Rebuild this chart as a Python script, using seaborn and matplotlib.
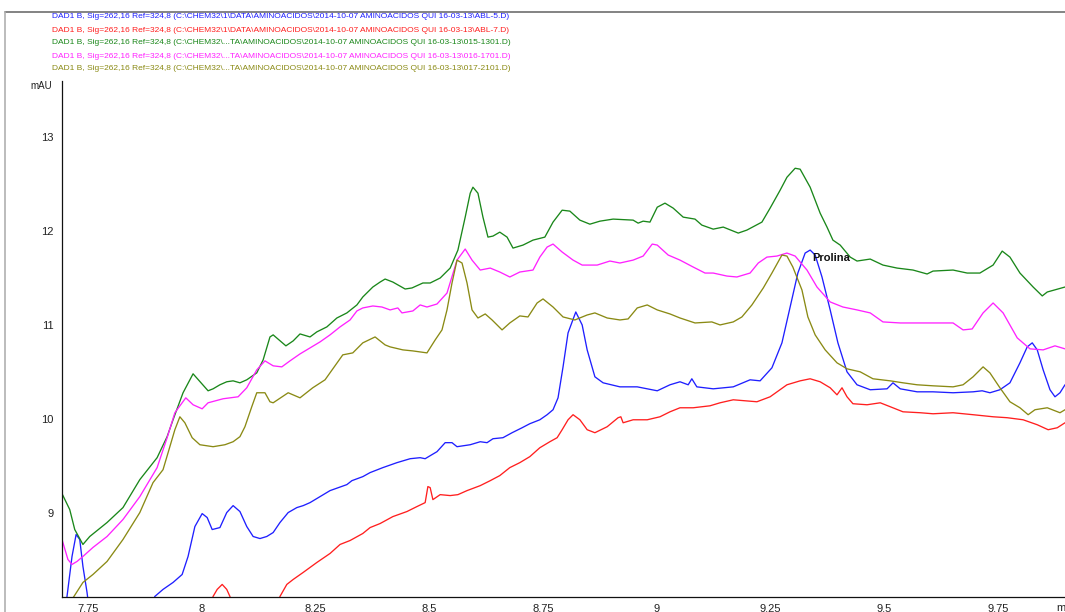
import matplotlib
matplotlib.use('Agg')
import matplotlib.pyplot as plt
from matplotlib.lines import Line2D
from matplotlib.ticker import MultipleLocator, FuncFormatter
import pandas as pd
import seaborn as sns

# Cromatogramas DAD1 B (Sig=262,16 Ref=324,8), tempo em min, sinal em mAU
t_abl5 = [7.697, 7.704, 7.715, 7.724, 7.732, 7.739, 7.748, 7.754, 7.886, 7.897, 7.915, 7.937, 7.957, 7.970,
          7.985, 8.001, 8.012, 8.023, 8.040, 8.055, 8.069, 8.084, 8.099, 8.113, 8.128, 8.143, 8.157, 8.172,
          8.190, 8.209, 8.223, 8.238, 8.260, 8.282, 8.319, 8.330, 8.354, 8.370, 8.398, 8.429, 8.458, 8.480,
          8.491, 8.502, 8.517, 8.535, 8.550, 8.561, 8.590, 8.612, 8.627, 8.640, 8.662, 8.682, 8.704, 8.721,
          8.743, 8.759, 8.772, 8.783, 8.794, 8.805, 8.822, 8.836, 8.847, 8.864, 8.882, 8.919, 8.957, 9.001,
          9.029, 9.051, 9.069, 9.077, 9.088, 9.124, 9.168, 9.205, 9.227, 9.253, 9.275, 9.293, 9.310, 9.326,
          9.337, 9.348, 9.363, 9.381, 9.398, 9.418, 9.440, 9.469, 9.506, 9.519, 9.535, 9.572, 9.607, 9.651,
          9.695, 9.715, 9.732, 9.754, 9.776, 9.798, 9.814, 9.825, 9.836, 9.849, 9.864, 9.875, 9.886, 9.897]
mau_abl5 = [7.947, 8.106, 8.532, 8.766, 8.713, 8.426, 8.149, 7.915, 7.947, 8.106, 8.181, 8.255, 8.340, 8.532,
            8.851, 8.989, 8.947, 8.819, 8.840, 9.000, 9.074, 9.011, 8.851, 8.745, 8.723, 8.745, 8.787, 8.894,
            9.000, 9.053, 9.074, 9.106, 9.170, 9.234, 9.298, 9.340, 9.383, 9.426, 9.479, 9.532, 9.574, 9.585,
            9.574, 9.606, 9.649, 9.745, 9.745, 9.702, 9.723, 9.755, 9.745, 9.787, 9.798, 9.851, 9.904, 9.947,
            9.989, 10.043, 10.096, 10.223, 10.553, 10.915, 11.138, 11.000, 10.734, 10.447, 10.383, 10.340, 10.340, 10.298,
            10.362, 10.394, 10.362, 10.426, 10.340, 10.319, 10.340, 10.415, 10.404, 10.543, 10.809, 11.191, 11.553, 11.766,
            11.798, 11.745, 11.511, 11.160, 10.809, 10.500, 10.362, 10.309, 10.319, 10.383, 10.319, 10.287, 10.287, 10.277,
            10.287, 10.298, 10.277, 10.309, 10.383, 10.596, 10.766, 10.809, 10.734, 10.521, 10.309, 10.234, 10.277, 10.362]

t_abl7 = [8.018, 8.025, 8.034, 8.045, 8.055, 8.062, 8.069, 8.165, 8.172, 8.187, 8.201, 8.223, 8.253, 8.282,
          8.304, 8.326, 8.354, 8.370, 8.392, 8.420, 8.451, 8.473, 8.491, 8.497, 8.502, 8.508, 8.524, 8.546,
          8.563, 8.583, 8.612, 8.634, 8.655, 8.677, 8.699, 8.721, 8.743, 8.765, 8.781, 8.792, 8.805, 8.816,
          8.831, 8.847, 8.864, 8.891, 8.915, 8.921, 8.926, 8.948, 8.979, 9.007, 9.029, 9.051, 9.080, 9.117,
          9.139, 9.168, 9.220, 9.249, 9.286, 9.315, 9.337, 9.359, 9.381, 9.396, 9.407, 9.418, 9.431, 9.462,
          9.491, 9.513, 9.541, 9.579, 9.607, 9.651, 9.695, 9.739, 9.770, 9.805, 9.836, 9.860, 9.880, 9.897]
mau_abl7 = [7.947, 8.106, 8.181, 8.234, 8.181, 8.106, 7.947, 7.947, 8.106, 8.234, 8.287, 8.362, 8.468, 8.564,
            8.660, 8.702, 8.777, 8.840, 8.883, 8.957, 9.011, 9.064, 9.106, 9.277, 9.266, 9.138, 9.191, 9.181,
            9.191, 9.234, 9.287, 9.340, 9.394, 9.479, 9.532, 9.596, 9.691, 9.755, 9.798, 9.883, 9.989, 10.043,
            9.989, 9.883, 9.851, 9.915, 10.011, 10.021, 9.957, 9.989, 9.989, 10.021, 10.074, 10.117, 10.117, 10.138,
            10.170, 10.202, 10.181, 10.234, 10.362, 10.404, 10.426, 10.394, 10.330, 10.255, 10.330, 10.234, 10.160, 10.149,
            10.170, 10.128, 10.074, 10.064, 10.053, 10.064, 10.043, 10.021, 10.011, 9.989, 9.936, 9.883, 9.904, 9.957]

t_1301 = [7.693, 7.710, 7.721, 7.739, 7.754, 7.792, 7.827, 7.864, 7.902, 7.924, 7.937, 7.959, 7.981, 8.014,
          8.025, 8.040, 8.055, 8.069, 8.084, 8.099, 8.121, 8.135, 8.150, 8.157, 8.185, 8.201, 8.216, 8.238,
          8.253, 8.275, 8.297, 8.319, 8.341, 8.354, 8.376, 8.392, 8.403, 8.420, 8.447, 8.462, 8.486, 8.502,
          8.524, 8.546, 8.563, 8.579, 8.590, 8.596, 8.607, 8.618, 8.629, 8.640, 8.655, 8.671, 8.684, 8.706,
          8.728, 8.754, 8.772, 8.792, 8.809, 8.831, 8.853, 8.875, 8.904, 8.948, 8.959, 8.970, 8.985, 9.001,
          9.018, 9.036, 9.058, 9.084, 9.099, 9.124, 9.146, 9.179, 9.198, 9.231, 9.249, 9.271, 9.286, 9.304,
          9.315, 9.337, 9.359, 9.374, 9.387, 9.403, 9.425, 9.440, 9.469, 9.497, 9.528, 9.563, 9.594, 9.607,
          9.651, 9.682, 9.710, 9.739, 9.759, 9.776, 9.798, 9.827, 9.847, 9.858, 9.897]
mau_1301 = [9.202, 9.032, 8.819, 8.660, 8.745, 8.894, 9.053, 9.351, 9.585, 9.809, 9.989, 10.277, 10.479, 10.298,
            10.319, 10.362, 10.394, 10.404, 10.383, 10.415, 10.489, 10.628, 10.872, 10.894, 10.777, 10.830, 10.904, 10.872,
            10.926, 10.979, 11.074, 11.128, 11.213, 11.298, 11.404, 11.457, 11.489, 11.457, 11.383, 11.394, 11.447, 11.447,
            11.500, 11.606, 11.798, 12.149, 12.404, 12.468, 12.404, 12.149, 11.936, 11.947, 11.989, 11.936, 11.819, 11.851,
            11.904, 11.936, 12.096, 12.223, 12.213, 12.117, 12.074, 12.106, 12.128, 12.117, 12.085, 12.106, 12.096, 12.255,
            12.298, 12.245, 12.149, 12.128, 12.064, 12.021, 12.043, 11.979, 12.011, 12.096, 12.245, 12.436, 12.574, 12.670,
            12.660, 12.468, 12.191, 12.043, 11.904, 11.851, 11.723, 11.681, 11.702, 11.638, 11.606, 11.585, 11.543, 11.574,
            11.585, 11.553, 11.553, 11.638, 11.787, 11.723, 11.553, 11.404, 11.309, 11.351, 11.404]

t_1701 = [7.693, 7.706, 7.715, 7.726, 7.739, 7.761, 7.792, 7.827, 7.864, 7.902, 7.924, 7.941, 7.965, 7.981,
          8.001, 8.014, 8.047, 8.080, 8.099, 8.121, 8.139, 8.157, 8.176, 8.194, 8.216, 8.238, 8.260, 8.282,
          8.304, 8.326, 8.341, 8.354, 8.376, 8.396, 8.414, 8.431, 8.440, 8.464, 8.480, 8.495, 8.517, 8.539,
          8.561, 8.579, 8.594, 8.612, 8.634, 8.655, 8.677, 8.699, 8.728, 8.743, 8.759, 8.772, 8.792, 8.816,
          8.836, 8.869, 8.897, 8.919, 8.948, 8.970, 8.990, 9.001, 9.025, 9.051, 9.080, 9.106, 9.124, 9.154,
          9.176, 9.205, 9.223, 9.242, 9.264, 9.286, 9.304, 9.330, 9.352, 9.381, 9.409, 9.440, 9.469, 9.497,
          9.535, 9.572, 9.607, 9.651, 9.673, 9.693, 9.717, 9.739, 9.761, 9.792, 9.820, 9.849, 9.875, 9.897]
mau_1701 = [8.713, 8.500, 8.447, 8.479, 8.532, 8.628, 8.745, 8.926, 9.170, 9.479, 9.798, 10.064, 10.223, 10.149,
            10.106, 10.170, 10.213, 10.234, 10.330, 10.521, 10.617, 10.564, 10.553, 10.617, 10.691, 10.755, 10.819, 10.894,
            10.979, 11.053, 11.149, 11.181, 11.202, 11.191, 11.160, 11.181, 11.128, 11.149, 11.213, 11.191, 11.223, 11.340,
            11.691, 11.809, 11.691, 11.585, 11.606, 11.564, 11.511, 11.564, 11.585, 11.723, 11.830, 11.862, 11.777, 11.691,
            11.638, 11.638, 11.681, 11.660, 11.691, 11.734, 11.862, 11.851, 11.745, 11.691, 11.617, 11.553, 11.553, 11.521,
            11.511, 11.553, 11.660, 11.723, 11.734, 11.766, 11.734, 11.585, 11.404, 11.245, 11.191, 11.160, 11.128, 11.032,
            11.021, 11.021, 11.021, 11.021, 10.947, 10.957, 11.128, 11.234, 11.128, 10.862, 10.745, 10.734, 10.777, 10.745]

t_2101 = [7.715, 7.739, 7.761, 7.792, 7.827, 7.864, 7.893, 7.915, 7.930, 7.941, 7.952, 7.963, 7.979, 7.996,
          8.025, 8.051, 8.069, 8.084, 8.095, 8.110, 8.121, 8.139, 8.150, 8.157, 8.190, 8.216, 8.244, 8.271,
          8.310, 8.332, 8.354, 8.381, 8.403, 8.414, 8.442, 8.464, 8.495, 8.513, 8.528, 8.539, 8.550, 8.561,
          8.572, 8.583, 8.594, 8.607, 8.623, 8.638, 8.660, 8.677, 8.699, 8.717, 8.737, 8.750, 8.772, 8.794,
          8.820, 8.847, 8.864, 8.891, 8.919, 8.937, 8.957, 8.979, 9.001, 9.029, 9.051, 9.084, 9.121, 9.139,
          9.168, 9.187, 9.209, 9.234, 9.253, 9.275, 9.286, 9.299, 9.319, 9.332, 9.348, 9.370, 9.396, 9.418,
          9.447, 9.475, 9.513, 9.541, 9.572, 9.607, 9.651, 9.673, 9.695, 9.717, 9.732, 9.754, 9.776, 9.798,
          9.816, 9.831, 9.858, 9.886, 9.897]
mau_2101 = [8.074, 8.255, 8.340, 8.479, 8.713, 9.000, 9.319, 9.457, 9.702, 9.883, 10.021, 9.957, 9.798, 9.723,
            9.702, 9.723, 9.755, 9.809, 9.915, 10.128, 10.277, 10.277, 10.181, 10.170, 10.277, 10.223, 10.330, 10.415,
            10.681, 10.702, 10.809, 10.872, 10.787, 10.766, 10.734, 10.723, 10.702, 10.840, 10.947, 11.160, 11.447, 11.691,
            11.660, 11.447, 11.160, 11.074, 11.117, 11.053, 10.947, 11.021, 11.096, 11.085, 11.234, 11.277, 11.191, 11.085,
            11.053, 11.106, 11.128, 11.074, 11.053, 11.064, 11.181, 11.213, 11.160, 11.117, 11.074, 11.021, 11.032, 11.000,
            11.032, 11.085, 11.213, 11.394, 11.553, 11.745, 11.734, 11.617, 11.372, 11.085, 10.894, 10.734, 10.596, 10.532,
            10.500, 10.426, 10.404, 10.383, 10.362, 10.351, 10.340, 10.362, 10.447, 10.553, 10.489, 10.330, 10.181, 10.117,
            10.043, 10.096, 10.117, 10.064, 10.096]

runs = ['ABL-5.D', 'ABL-7.D', '015-1301.D', '016-1701.D', '017-2101.D']
colors = ['#1f1fff', '#ff1f1f', '#1a871a', '#ff22ff', '#8a8a14']
legend_paths = [
    'C:\\CHEM32\\1\\DATA\\AMINOACIDOS\\2014-10-07 AMINOACIDOS QUI 16-03-13\\ABL-5.D',
    'C:\\CHEM32\\1\\DATA\\AMINOACIDOS\\2014-10-07 AMINOACIDOS QUI 16-03-13\\ABL-7.D',
    'C:\\CHEM32\\...TA\\AMINOACIDOS\\2014-10-07 AMINOACIDOS QUI 16-03-13\\015-1301.D',
    'C:\\CHEM32\\...TA\\AMINOACIDOS\\2014-10-07 AMINOACIDOS QUI 16-03-13\\016-1701.D',
    'C:\\CHEM32\\...TA\\AMINOACIDOS\\2014-10-07 AMINOACIDOS QUI 16-03-13\\017-2101.D',
]
peak_name = 'Prolina'
peak_pos = (9.341, 11.71)

series = [(t_abl5, mau_abl5), (t_abl7, mau_abl7), (t_1301, mau_1301), (t_1701, mau_1701), (t_2101, mau_2101)]
df = pd.concat([pd.DataFrame({'min': t, 'mAU': v, 'run': r}) for (t, v), r in zip(series, runs)],
               ignore_index=True)

sns.set_style('white')
plt.rcParams['font.family'] = ['Liberation Sans', 'DejaVu Sans']

fig = plt.figure(figsize=(10.65, 6.12), dpi=100)
ax = fig.add_axes([62 / 1065, 1 - 597 / 612, 1 - 62 / 1065, (597 - 81) / 612])

sns.lineplot(data=df, x='min', y='mAU', hue='run', palette=dict(zip(runs, colors)),
             sort=False, estimator=None, legend=False, linewidth=0.95, ax=ax)

ax.set_xlim(7.693, 9.897)
ax.set_ylim(8.1, 13.6)
ax.xaxis.set_major_locator(MultipleLocator(0.25))
ax.xaxis.set_minor_locator(MultipleLocator(0.05))
ax.yaxis.set_major_locator(MultipleLocator(1))
ax.yaxis.set_minor_locator(MultipleLocator(0.2))
ax.xaxis.set_major_formatter(FuncFormatter(lambda v, p: f'{v:g}'))
ax.yaxis.set_major_formatter(FuncFormatter(lambda v, p: f'{v:g}'))
ax.tick_params(axis='x', which='major', length=4.3, width=0.8, pad=0.6, labelsize=8, colors='#222222')
ax.tick_params(axis='y', which='major', length=3.6, width=0.8, pad=2.5, labelsize=8, colors='#222222')
ax.tick_params(which='minor', length=2.2, width=0.8, colors='#222222')
ax.set_xlabel('')
ax.set_ylabel('')
for s in ['top', 'right']:
    ax.spines[s].set_visible(False)
for s in ['left', 'bottom']:
    ax.spines[s].set_color('#111111')
    ax.spines[s].set_linewidth(0.9)

ax.text(peak_pos[0], peak_pos[1], peak_name, fontsize=8, fontweight='bold', ha='left', va='center', color='#111111')

# titulo de cada traço, na cor do traço
for i, (path, c) in enumerate(zip(legend_paths, colors)):
    fig.text(52 / 1065, 1 - (17 + 13 * i) / 612, f'DAD1 B, Sig=262,16 Ref=324,8 ({path})',
             color=c, fontsize=6.0, va='center', ha='left')

fig.text(52 / 1065, 1 - 86 / 612, 'mAU', fontsize=7, ha='right', va='center', color='#222222')
fig.text(1056 / 1065, 1 - 603 / 612, 'min', fontsize=8, ha='left', va='top', color='#222222')

# moldura cinza do relatório
fig.add_artist(Line2D([5 / 1065, 1], [1 - 12 / 612, 1 - 12 / 612], color='#6e6e6e', lw=1.2))
fig.add_artist(Line2D([5 / 1065, 5 / 1065], [0, 1 - 12 / 612], color='#b0b0b0', lw=1.2))

fig.savefig('out.png', dpi=100)
